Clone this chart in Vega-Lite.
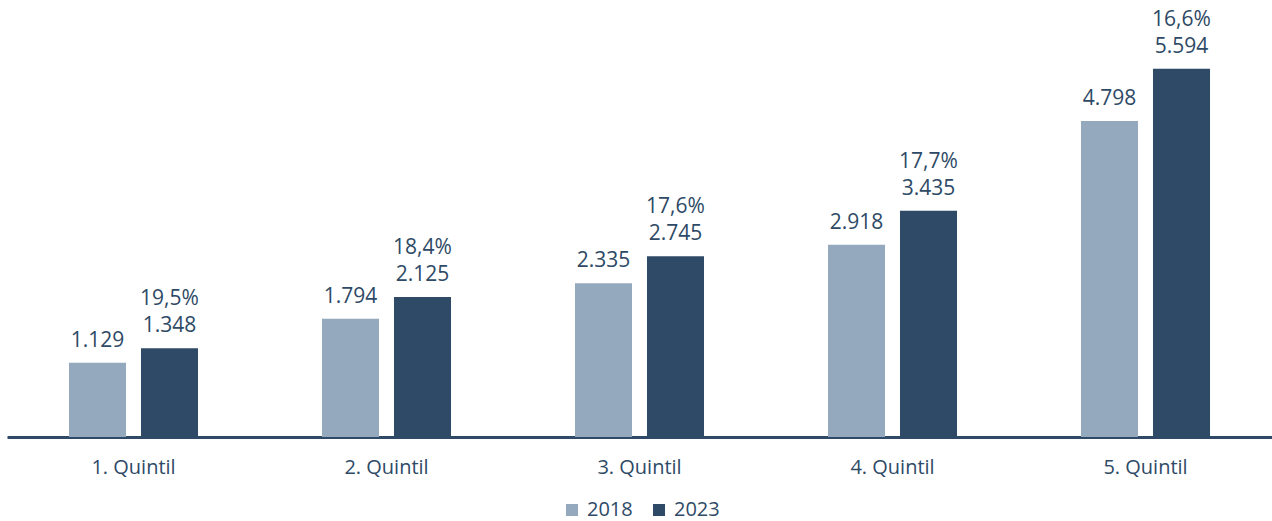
{
  "$schema": "https://vega.github.io/schema/vega-lite/v6.json",
  "autosize": {"type": "none"},
  "width": 1265,
  "height": 428,
  "padding": {"left": 7, "top": 9, "right": 0, "bottom": 84},
  "config": {
    "locale": {"number": {"decimal": ",", "thousands": ".", "grouping": [3], "currency": ["", " €"]}},
    "view": {"stroke": null},
    "font": "Open Sans"
  },
  "data": {
    "values": [
      {"quintil": "1. Quintil", "jahr": "2018", "wert": 1129, "pct": null},
      {"quintil": "1. Quintil", "jahr": "2023", "wert": 1348, "pct": 0.195},
      {"quintil": "2. Quintil", "jahr": "2018", "wert": 1794, "pct": null},
      {"quintil": "2. Quintil", "jahr": "2023", "wert": 2125, "pct": 0.184},
      {"quintil": "3. Quintil", "jahr": "2018", "wert": 2335, "pct": null},
      {"quintil": "3. Quintil", "jahr": "2023", "wert": 2745, "pct": 0.176},
      {"quintil": "4. Quintil", "jahr": "2018", "wert": 2918, "pct": null},
      {"quintil": "4. Quintil", "jahr": "2023", "wert": 3435, "pct": 0.177},
      {"quintil": "5. Quintil", "jahr": "2018", "wert": 4798, "pct": null},
      {"quintil": "5. Quintil", "jahr": "2023", "wert": 5594, "pct": 0.166}
    ]
  },
  "encoding": {
    "x": {
      "field": "quintil", "type": "nominal", "title": null,
      "scale": {"paddingInner": 0.49, "paddingOuter": 0.245},
      "axis": {
        "labelAngle": 0, "ticks": false, "domainColor": "#2E4A66", "domainWidth": 3,
        "labelFontSize": 20, "labelColor": "#2E4A66", "labelFont": "Open Sans", "labelPadding": 20
      }
    },
    "xOffset": {"field": "jahr", "type": "nominal", "scale": {"paddingInner": 0.208, "paddingOuter": 0}},
    "y": {
      "field": "wert", "type": "quantitative",
      "scale": {"domain": [0, 6500]},
      "axis": null
    }
  },
  "layer": [
    {
      "mark": {"type": "bar"},
      "encoding": {
        "color": {
          "field": "jahr", "type": "nominal", "title": null,
          "scale": {"domain": ["2018", "2023"], "range": ["#94A9BD", "#2E4A66"]},
          "legend": {
            "orient": "none", "direction": "horizontal", "legendX": 555, "legendY": 491,
            "symbolType": "square", "symbolSize": 144, "symbolStrokeWidth": 0,
            "labelFontSize": 20, "labelColor": "#2E4A66", "labelFont": "Open Sans",
            "labelOffset": 5, "columnPadding": 16, "padding": 0
          }
        }
      }
    },
    {
      "mark": {"type": "text", "baseline": "bottom", "dy": -12, "fontSize": 21, "color": "#2E4A66"},
      "encoding": {"text": {"field": "wert", "type": "quantitative", "format": ",.0f"}}
    },
    {
      "transform": [{"filter": "datum.pct != null"}],
      "mark": {"type": "text", "baseline": "bottom", "dy": -39, "fontSize": 21, "color": "#2E4A66"},
      "encoding": {"text": {"field": "pct", "type": "quantitative", "format": ".1%"}}
    }
  ]
}
